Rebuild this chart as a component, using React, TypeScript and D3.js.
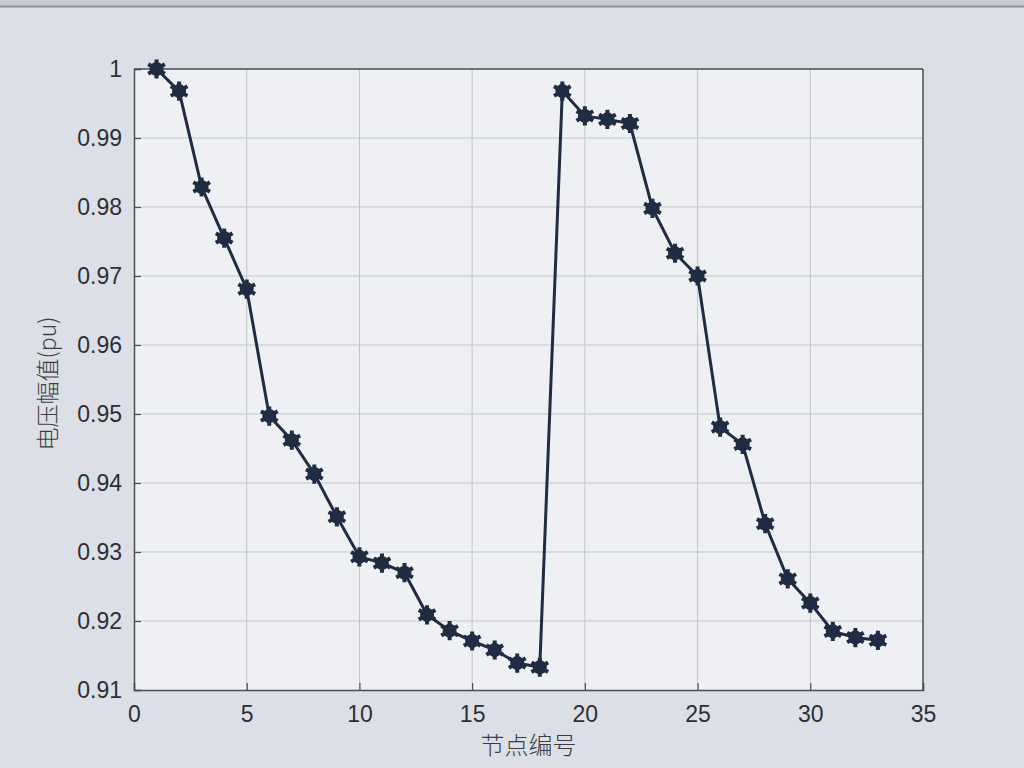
import React, { useEffect, useRef } from "react";
import * as d3 from "d3";

// node numbers and voltage magnitudes
const nodes: number[] = d3.range(1, 34);
const voltage: number[] = [
  1.0, 0.9968, 0.9829, 0.9755, 0.9681, 0.9497, 0.9462, 0.9413, 0.9351,
  0.9293, 0.9284, 0.9270, 0.9209, 0.9186, 0.9171, 0.9158, 0.9139, 0.9133,
  0.9968, 0.9932, 0.9927, 0.9921, 0.9798, 0.9733, 0.9700, 0.9481, 0.9456,
  0.9341, 0.9261, 0.9226, 0.9185, 0.9176, 0.9172,
];
const xTicks: number[] = [0, 5, 10, 15, 20, 25, 30, 35];
const yTicks: number[] = [0.91, 0.92, 0.93, 0.94, 0.95, 0.96, 0.97, 0.98, 0.99, 1];

const App: React.FC = () => {
  const svgRef = useRef<SVGSVGElement>(null);

  useEffect(() => {
    const width = 1024;
    const height = 768;
    const left = 134;
    const right = 923;
    const top = 69;
    const bottom = 690;

    const svg = d3.select(svgRef.current);
    svg.selectAll("*").remove();
    svg.attr("width", width).attr("height", height);

    // figure background
    svg.append("rect").attr("width", width).attr("height", height).attr("fill", "#dcdfe5");
    svg.append("rect").attr("width", width).attr("height", 6).attr("fill", "#c9ccd2");
    svg.append("line").attr("x1", 0).attr("x2", width).attr("y1", 6.5).attr("y2", 6.5)
      .attr("stroke", "#8d9097").attr("stroke-width", 2);

    const x = d3.scaleLinear().domain([0, 35]).range([left, right]);
    const y = d3.scaleLinear().domain([0.91, 1]).range([bottom, top]);

    // plot area
    svg.append("rect")
      .attr("x", left).attr("y", top)
      .attr("width", right - left).attr("height", bottom - top)
      .attr("fill", "#eff0f3");

    // grid
    svg.append("g")
      .selectAll("line")
      .data(xTicks.slice(1, -1))
      .join("line")
      .attr("x1", (d) => x(d)).attr("x2", (d) => x(d))
      .attr("y1", top).attr("y2", bottom)
      .attr("stroke", "#c2c5cb").attr("stroke-width", 1);
    svg.append("g")
      .selectAll("line")
      .data(yTicks.slice(1, -1))
      .join("line")
      .attr("x1", left).attr("x2", right)
      .attr("y1", (d) => y(d)).attr("y2", (d) => y(d))
      .attr("stroke", "#c2c5cb").attr("stroke-width", 1);

    // axes
    const xAxis = svg.append("g")
      .attr("transform", `translate(0,${bottom})`)
      .call(d3.axisBottom(x).tickValues(xTicks).tickSize(-7).tickPadding(16).tickFormat(d3.format("d")));
    const yAxis = svg.append("g")
      .attr("transform", `translate(${left},0)`)
      .call(
        d3.axisLeft(y).tickValues(yTicks).tickSize(-7).tickPadding(12)
          .tickFormat((d) => (d === 1 ? "1" : d3.format(".2f")(d as number)))
      );
    [xAxis, yAxis].forEach((g) => {
      g.selectAll("path").attr("stroke", "#4a4d53").attr("stroke-width", 1.5);
      g.selectAll("line").attr("stroke", "#4a4d53").attr("stroke-width", 1.2);
      g.selectAll("text")
        .attr("fill", "#2c2f35")
        .style("font-family", "'Liberation Sans', Arial, sans-serif")
        .style("font-size", "23px");
    });
    // top and right box edges
    svg.append("line").attr("x1", left).attr("x2", right).attr("y1", top).attr("y2", top)
      .attr("stroke", "#4a4d53").attr("stroke-width", 1.5);
    svg.append("line").attr("x1", right).attr("x2", right).attr("y1", top).attr("y2", bottom)
      .attr("stroke", "#4a4d53").attr("stroke-width", 1.5);

    // data line
    const pts = nodes.map((n, i) => [n, voltage[i]] as [number, number]);
    const line = d3.line<[number, number]>()
      .x((d) => x(d[0]))
      .y((d) => y(d[1]));
    svg.append("path")
      .datum(pts)
      .attr("d", line)
      .attr("fill", "none")
      .attr("stroke", "#1f2c42")
      .attr("stroke-width", 3);

    // star markers
    const star = d3.symbol().type(d3.symbolAsterisk).size(260);
    const markers = svg.append("g")
      .selectAll("g")
      .data(pts)
      .join("g")
      .attr("transform", (d) => `translate(${x(d[0])},${y(d[1])})`);
    markers.append("circle").attr("r", 7).attr("fill", "#1f2c42");
    markers.append("path").attr("d", star()).attr("fill", "none")
      .attr("stroke", "#1f2c42").attr("stroke-width", 4);

    // axis labels
    svg.append("text")
      .attr("x", (left + right) / 2 + 0)
      .attr("y", 754)
      .attr("text-anchor", "middle")
      .attr("fill", "#3a3d44")
      .style("font-family", "'Noto Sans CJK SC', sans-serif")
      .style("font-weight", 300)
      .style("font-size", "24px")
      .text("节点编号");
    svg.append("text")
      .attr("transform", `translate(56,${(top + bottom) / 2 + 4}) rotate(-90)`)
      .attr("text-anchor", "middle")
      .attr("fill", "#3a3d44")
      .style("font-family", "'Noto Sans CJK SC', sans-serif")
      .style("font-weight", 300)
      .style("font-size", "23px")
      .text("电压幅值(pu)");
  }, []);

  return (
    <svg ref={svgRef} style={{ position: "absolute", left: 0, top: 0, display: "block" }}></svg>
  );
};

export default App;
